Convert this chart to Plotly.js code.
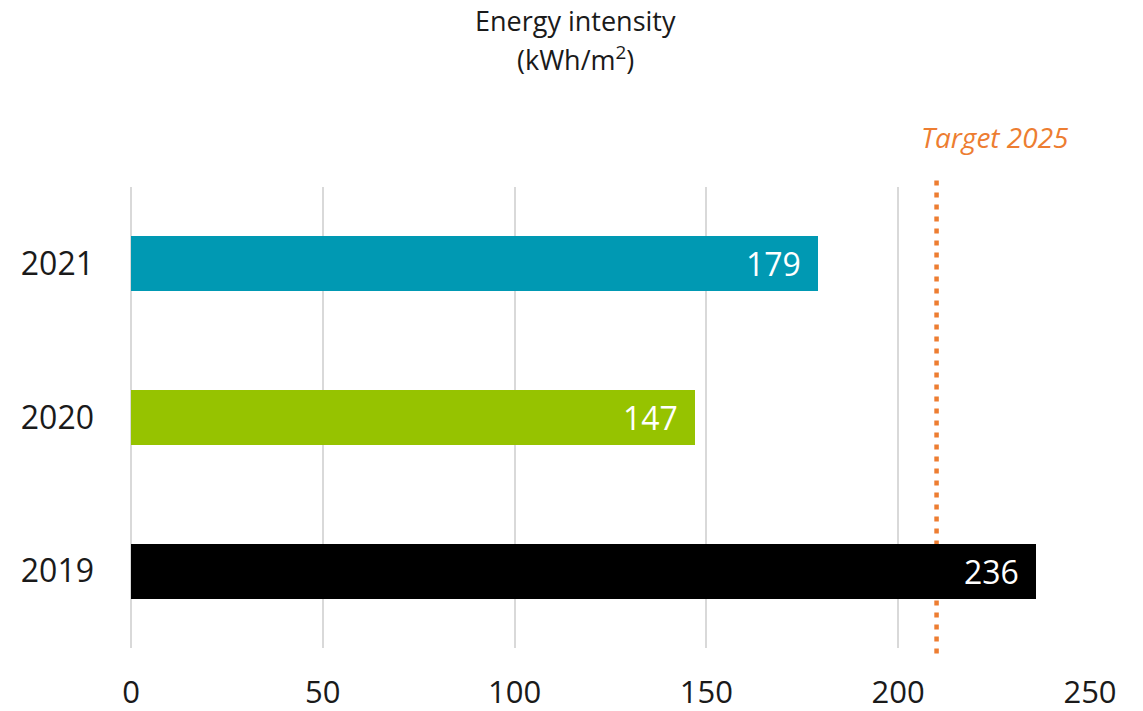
<!DOCTYPE html>
<html>
<head>
<meta charset="utf-8">
<script src="https://cdn.plot.ly/plotly-3.0.1.min.js"></script>
<style>html,body{margin:0;padding:0;background:#fff;}#chart{width:1143px;height:711px;}</style>
</head>
<body>
<div id="chart"></div>
<script>
const years = ['2019', '2020', '2021'];
const intensity = [236, 147, 179];
const barColors = ['#000000', '#96C300', '#0099B3'];
const target2025 = 210;
const targetLabel = 'Target 2025';
const xTicks = [0, 50, 100, 150, 200, 250];
const titleLine1 = 'Energy intensity';
const titleLine2 = '(kWh/m<sup>2</sup>)';

const FONT = '"Open Sans", "Segoe UI", sans-serif';

const trace = {
  type: 'bar',
  orientation: 'h',
  y: years,
  x: intensity,
  width: 0.36,
  marker: {color: barColors, line: {width: 0}},
  hoverinfo: 'none',
  textposition: 'none'
};

const valueLabels = years.map((y, i) => ({
  x: intensity[i], y: i, xref: 'x', yref: 'y',
  text: String(intensity[i]), showarrow: false,
  xanchor: 'right', yanchor: 'middle', xshift: -15, yshift: 0,
  font: {family: FONT, size: 32, color: '#ffffff'}
}));

const titleAnns = [
  {text: titleLine1, yshift: 187 - 20},
  {text: titleLine2, yshift: 187 - 58}
].map(t => ({
  x: 0.463, y: 1, xref: 'paper', yref: 'paper',
  text: t.text, showarrow: false,
  xanchor: 'center', yanchor: 'middle', yshift: t.yshift,
  font: {family: FONT, size: 27, color: '#1a1a1a'}
}));

const layout = {
  width: 1143, height: 711,
  paper_bgcolor: '#ffffff', plot_bgcolor: '#ffffff',
  margin: {l: 131, r: 53, t: 187, b: 63},
  showlegend: false,
  bargap: 0,
  xaxis: {
    range: [0, 250], autorange: false,
    tickvals: xTicks, ticktext: xTicks.map(String),
    showgrid: true, gridcolor: '#D9D9D9', gridwidth: 2,
    zeroline: true, zerolinecolor: '#D9D9D9', zerolinewidth: 2,
    showline: false, ticks: '',
    ticklabelstandoff: 23,
    tickfont: {family: FONT, size: 31, color: '#1a1a1a'}
  },
  yaxis: {
    type: 'category', range: [-0.5, 2.5], autorange: false,
    showgrid: false, zeroline: false, showline: false, ticks: '',
    ticklabelstandoff: 36,
    tickfont: {family: FONT, size: 32, color: '#1a1a1a'}
  },
  shapes: [{
    type: 'line', xref: 'x', yref: 'paper', layer: 'below',
    x0: target2025, x1: target2025, y0: -0.012, y1: 1.016,
    line: {color: '#ED7D31', width: 4.5, dash: '5px,7px'}
  }],
  annotations: valueLabels.concat(titleAnns, [{
    x: target2025, y: 1, xref: 'x', yref: 'paper',
    text: '<i>' + targetLabel + '</i>', showarrow: false,
    xanchor: 'center', yanchor: 'middle', xshift: 58, yshift: 50,
    font: {family: FONT, size: 28, color: '#ED7D31'}
  }])
};

Plotly.newPlot('chart', [trace], layout, {displayModeBar: false, staticPlot: true});
</script>
</body>
</html>
